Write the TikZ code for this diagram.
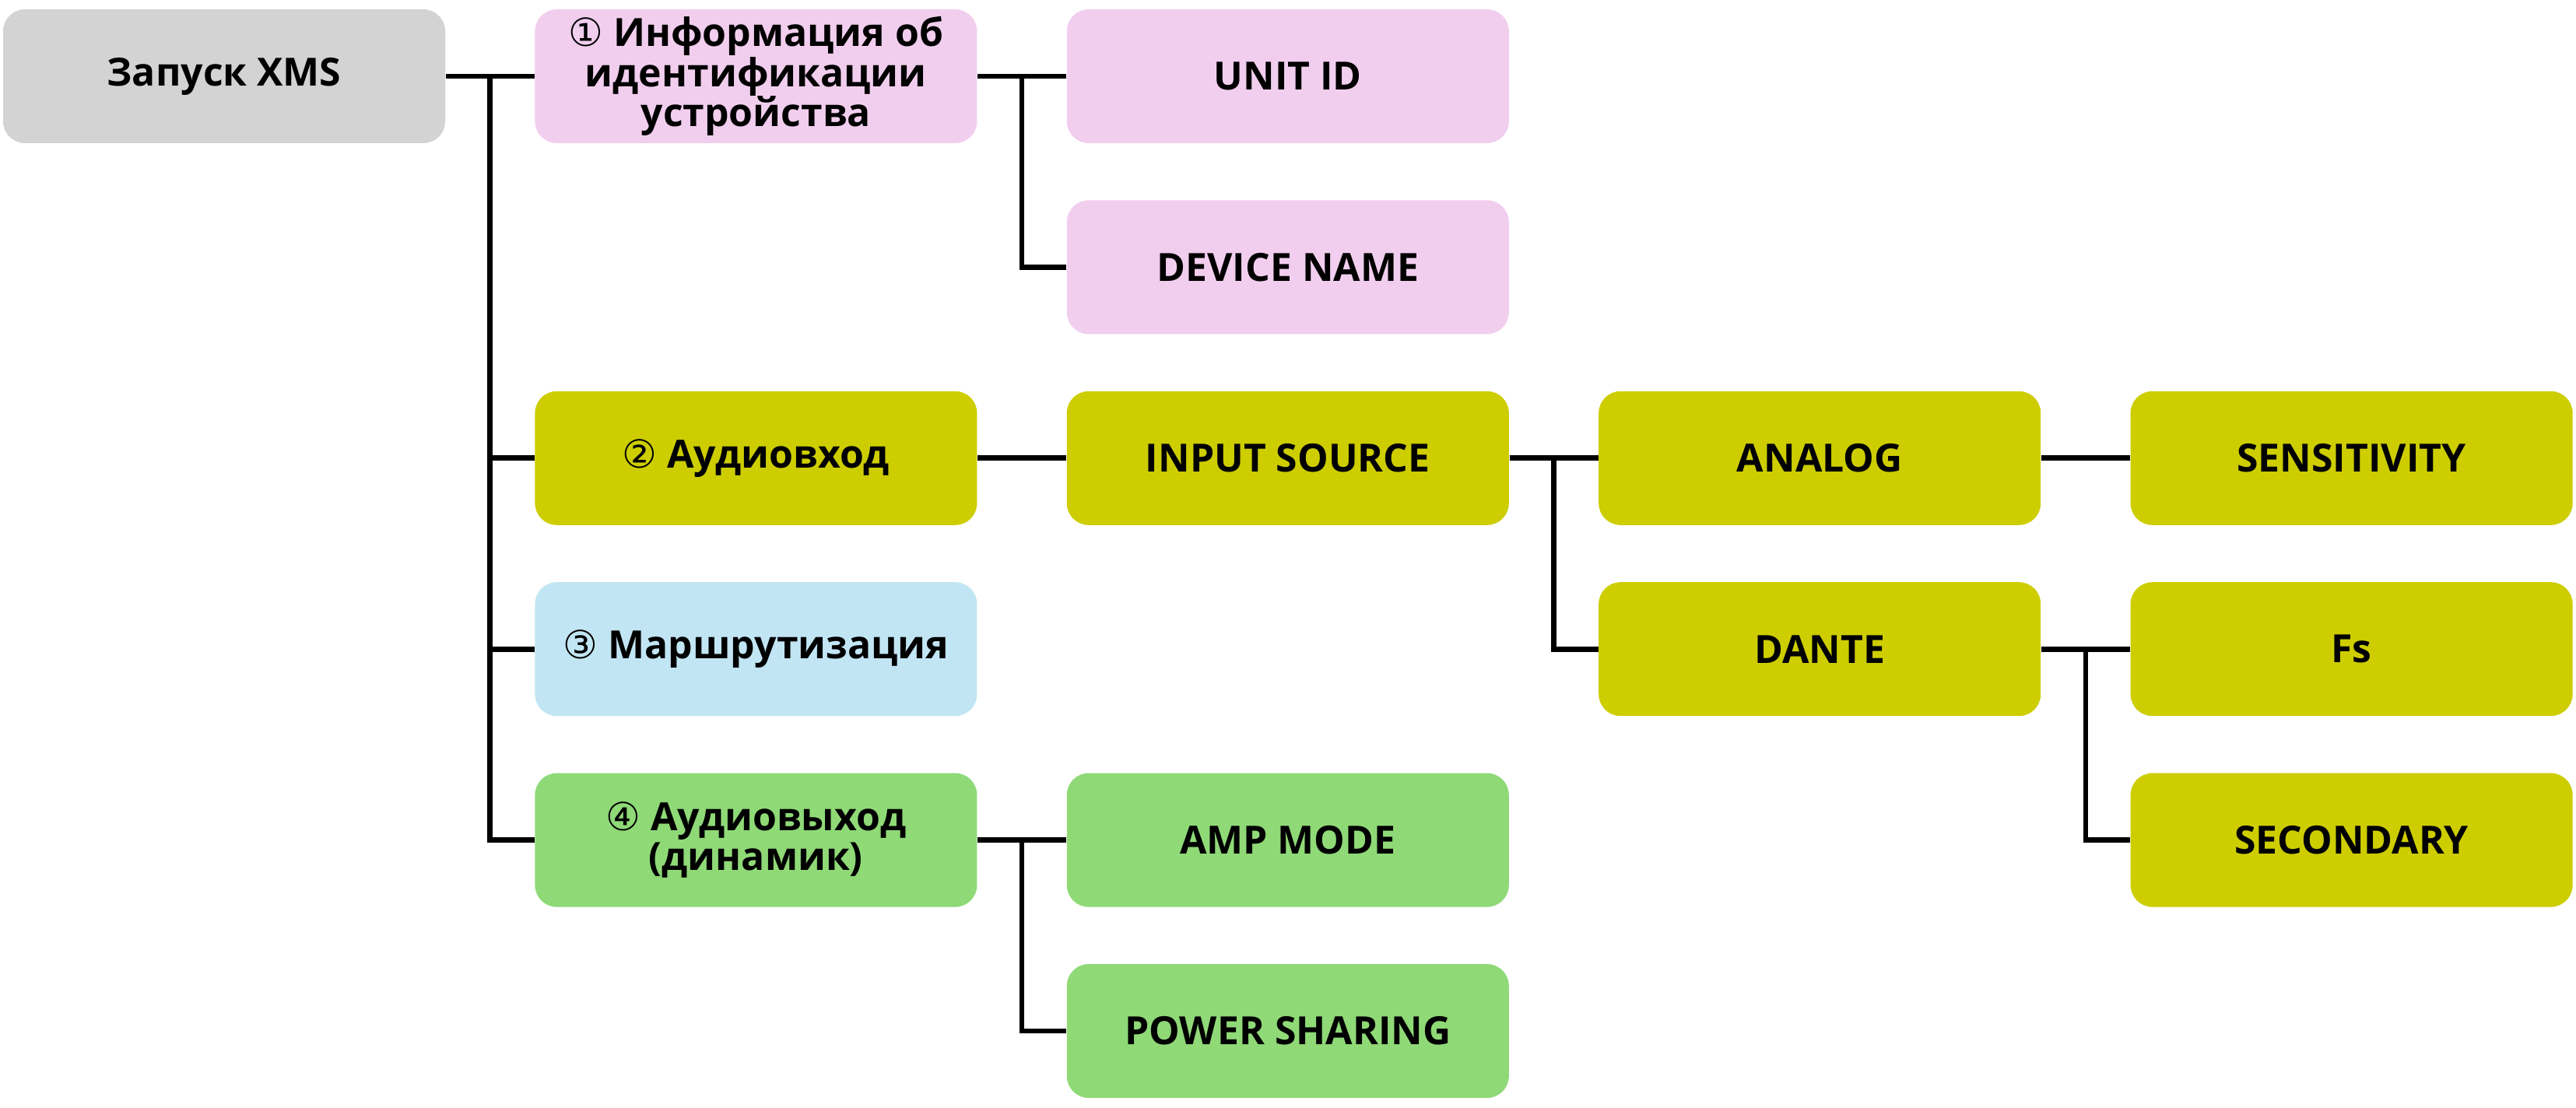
\documentclass[tikz,border=0pt]{standalone}
\usepackage{fontspec}
\setmainfont{Open Sans}[BoldFont={Open Sans Bold}]
\newfontfamily\dejavu{DejaVu Sans}
\usepackage{tikz}
\usetikzlibrary{positioning, calc}
\definecolor{xmsgray}{HTML}{D3D3D3}
\definecolor{xmspink}{HTML}{F1CEEE}
\definecolor{xmsolive}{HTML}{CDCD00}
\definecolor{xmsblue}{HTML}{C2E5F4}
\definecolor{xmsgreen}{HTML}{8FD977}
\newcommand{\cnum}[1]{{\dejavu\mdseries #1}}
\tikzset{
  item/.style={rectangle, rounded corners=0.28cm, minimum width=5.68cm, minimum height=1.72cm,
    inner sep=0pt, align=center, font=\fontsize{14.2}{14.6}\selectfont\bfseries},
  rootbox/.style={item, fill=xmsgray},
  idbox/.style={item, fill=xmspink},
  inbox/.style={item, fill=xmsolive},
  routebox/.style={item, fill=xmsblue},
  outbox/.style={item, fill=xmsgreen},
  link/.style={line width=1.9pt, black},
}

\begin{document}
\begin{tikzpicture}
    \useasboundingbox (0,0) rectangle (33.1,-14.24);
    \node[rootbox] (start) at (2.88,-0.98) {Запуск XMS};
    \node[idbox, right=1.14cm of start] (ident) {\cnum{①} Информация об\\идентификации\\устройства};
    \node[idbox, right=1.14cm of ident] (unitid) {UNIT ID};
    \node[idbox, below=0.72cm of unitid] (devname) {DEVICE NAME};
    \node[inbox, below=0.72cm of devname] (inputsrc) {INPUT SOURCE};
    \node[inbox, left=1.14cm of inputsrc] (audin) {\cnum{②} Аудиовход};
    \node[routebox, below=0.72cm of audin] (routing) {\cnum{③} Маршрутизация};
    \node[outbox, below=0.72cm of routing] (audout) {\cnum{④} Аудиовыход\\(динамик)};
    \node[outbox, right=1.14cm of audout] (ampmode) {AMP MODE};
    \node[outbox, below=0.72cm of ampmode] (powshare) {POWER SHARING};
    \node[inbox, right=1.14cm of inputsrc] (analog) {ANALOG};
    \node[inbox, below=0.72cm of analog] (dante) {DANTE};
    \node[inbox, right=1.14cm of analog] (sens) {SENSITIVITY};
    \node[inbox, right=1.14cm of dante] (fs) {Fs};
    \node[inbox, below=0.72cm of fs] (second) {SECONDARY};

    % branch points
    \coordinate (j0) at ($(start.east)!0.5!(ident.west)$);
    \coordinate (j1) at ($(ident.east)!0.5!(unitid.west)$);
    \coordinate (j2) at ($(inputsrc.east)!0.5!(analog.west)$);
    \coordinate (j3) at ($(dante.east)!0.5!(fs.west)$);
    \coordinate (j4) at ($(audout.east)!0.5!(ampmode.west)$);

    \draw[link] (start) -- (ident);
    \draw[link] (j0) |- (audin);
    \draw[link] (j0) |- (routing);
    \draw[link] (j0) |- (audout);
    \draw[link] (ident) -- (unitid);
    \draw[link] (j1) |- (devname);
    \draw[link] (audin) -- (inputsrc);
    \draw[link] (inputsrc) -- (analog);
    \draw[link] (j2) |- (dante);
    \draw[link] (analog) -- (sens);
    \draw[link] (dante) -- (fs);
    \draw[link] (j3) |- (second);
    \draw[link] (audout) -- (ampmode);
    \draw[link] (j4) |- (powshare);
\end{tikzpicture}
\end{document}
